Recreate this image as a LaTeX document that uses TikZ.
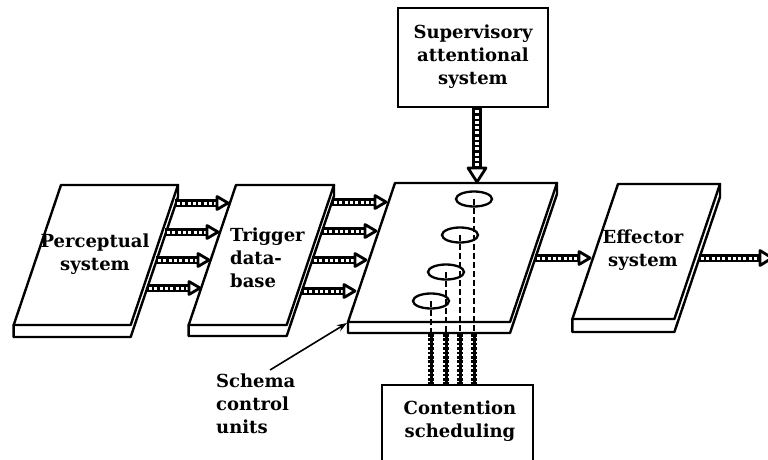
\documentclass[tikz,border=0pt]{standalone}
\usepackage{fontspec}
\setmainfont{DejaVu Serif}
\usetikzlibrary{calc,arrows.meta,shapes.geometric}

% a tilted slab: name, top-left x, top y, width, height, thickness
\newcommand\drawslab[6]{%
  \coordinate (#1-tl) at (#2,#3);
  \coordinate (#1-tr) at (#2+#4,#3);
  \coordinate (#1-bl) at (#2-0.338*#5,#3+#5);
  \coordinate (#1-br) at (#2+#4-0.338*#5,#3+#5);
  \draw[slabline,fill=white] (#1-bl) -- ++(0,#6) -- ($(#1-br)+(0,#6)$) -- ($(#1-tr)+(0,#6)$) -- (#1-tr) -- cycle;
  \draw[slabline,fill=white] (#1-tl) -- (#1-tr) -- (#1-br) -- (#1-bl) -- cycle;
}

% a banded pipe arrow: start, end, band width, dot width, head length, head half-width
\newcommand\pipearrow[6]{%
  \coordinate (pipebase) at ($(#2)!#5pt!(#1)$);
  \draw[line width=#3pt] (#1) -- (pipebase);
  \draw[white,line width=#4pt,dash pattern=on 3pt off 2.3pt] ($(#1)!2pt!(pipebase)$) -- (pipebase);
  \filldraw[fill=white,line width=2.8pt,line join=round]
    (#2) -- ($(pipebase)!#6pt!90:(#2)$) -- ($(pipebase)!#6pt!-90:(#2)$) -- cycle;
}

\tikzset{
  slabline/.style={line width=2.4pt,line join=round},
  lbl/.style={font=\bfseries\fontsize{18}{23}\selectfont,inner sep=0pt,align=center},
  boxed/.style={draw,line width=2.4pt,inner sep=0pt},
  unit/.style={ellipse,draw,line width=2.3pt,minimum width=36pt,minimum height=15pt,inner sep=0pt},
  guide/.style={line width=1.4pt,dash pattern=on 6pt off 3pt},
  ladder/.style={line width=3pt},
  ladderbeads/.style={line width=6.5pt,dash pattern=on 2.6pt off 1.8pt},
}

\begin{document}
\begin{tikzpicture}[x=1pt,y=-1pt]
\useasboundingbox (0,0) rectangle (768,460);
\clip (0,0) rectangle (768,460);

% slabs
\drawslab{per}{61}{185}{117}{140}{12}
\drawslab{trg}{236}{185}{98}{140}{11}
\drawslab{mid}{395}{183}{162}{139}{11}
\drawslab{eff}{618}{184}{102}{135}{13}

\node[lbl] (pertext) at (95,254) {Perceptual\\system};
\node[lbl,align=left,anchor=west] (trgtext) at (230,258) {Trigger\\data-\\base};
\node[lbl] (efftext) at (643,250) {Effector\\system};

% supervisory and contention boxes
\node[boxed,minimum width=150pt,minimum height=99pt] (sas) at (473,57.5) {};
\node[lbl] (sastext) at (473,57) {Supervisory\\attentional\\system};
\node[boxed,minimum width=151pt,minimum height=80pt] (cs) at (457.5,425) {};
\node[lbl] (cstext) at (460,421) {Contention\\scheduling};

% schema control units
\node[unit] (u1) at (474,199) {};
\node[unit] (u2) at (460,235) {};
\node[unit] (u3) at (446,272) {};
\node[unit] (u4) at (431,301) {};
\coordinate (stripbottom) at (0,334);
\foreach \u in {u1,u2,u3,u4}{
  \draw[guide] (\u.center) -- (\u.center |- stripbottom);
  \draw[ladder] (\u.center |- stripbottom) -- (\u.center |- cs.north);
  \draw[ladderbeads] (\u.center |- stripbottom) -- (\u.center |- cs.north);
}

% pipes between perceptual system and trigger database
\coordinate (pa1) at (175,203); \coordinate (pb1) at (228,203);
\coordinate (pa2) at (165,232); \coordinate (pb2) at (218,232);
\coordinate (pa3) at (156,260); \coordinate (pb3) at (209,260);
\coordinate (pa4) at (147,288); \coordinate (pb4) at (200,288);
\foreach \i in {1,2,3,4}{\pipearrow{pa\i}{pb\i}{8}{3}{11}{6.5}}

% pipes between trigger database and schema units
\coordinate (ta1) at (332,202); \coordinate (tb1) at (386,202);
\coordinate (ta2) at (322,231); \coordinate (tb2) at (376,231);
\coordinate (ta3) at (312,260); \coordinate (tb3) at (366,260);
\coordinate (ta4) at (302,291); \coordinate (tb4) at (355,291);
\foreach \i in {1,2,3,4}{\pipearrow{ta\i}{tb\i}{8}{3}{11}{6.5}}

% output pipes
\coordinate (ma) at (535,258); \coordinate (mb) at (590,258);
\pipearrow{ma}{mb}{8}{3}{11}{6.5}
\coordinate (ea) at (699,258); \coordinate (eb) at (772,258);
\pipearrow{ea}{eb}{8}{3}{12}{7.5}

% supervisory input
\coordinate (sb) at (477,182);
\pipearrow{sas.south -| sb}{sb}{10}{4}{14}{9}

% label for the control units
\node[lbl,align=left,anchor=west] (scu) at (216,404) {Schema\\control\\units};
\coordinate (scutail) at (270,370);
\draw[-{Stealth[length=10pt,width=7pt]},line width=1.6pt] (scutail) -- ($(mid-bl)+(-1,1)$);
\end{tikzpicture}
\end{document}
